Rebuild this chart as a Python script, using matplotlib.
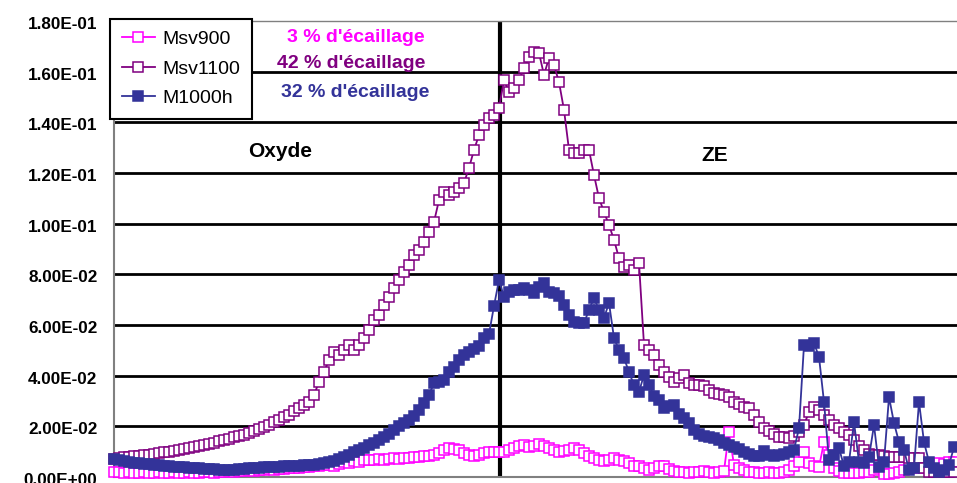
import matplotlib
matplotlib.use("Agg")
import matplotlib.pyplot as plt
import matplotlib.transforms as mtransforms
import numpy as np

# profile values, unit = 1e-3, one point per measurement step
msv900 = [
    2.0, 2.0, 1.6, 2.0, 1.6, 1.6, 2.0, 1.6, 1.6, 2.0,
    1.6, 1.6, 2.0, 1.6, 1.6, 2.0, 1.6, 1.6, 2.0, 2.0,
    1.6, 2.0, 2.0, 2.4, 2.0, 2.4, 2.4, 2.8, 2.4, 2.8,
    2.8, 3.2, 2.8, 3.2, 3.2, 3.6, 3.6, 3.6, 3.9, 3.9,
    4.3, 4.3, 4.7, 4.7, 4.3, 5.1, 5.9, 5.5, 6.3, 5.9,
    6.7, 6.7, 6.7, 7.1, 6.7, 7.1, 7.5, 7.1, 7.5, 7.5,
    7.9, 7.9, 8.3, 8.3, 8.7, 9.5, 10.7, 11.4, 11.1, 10.7,
    9.5, 8.7, 8.3, 8.7, 9.5, 9.9, 9.9, 9.9, 9.9, 10.7,
    11.4, 12.2, 12.6, 11.8, 12.2, 13.0, 12.2, 11.4, 10.7, 9.9,
    10.3, 10.7, 11.4, 10.7, 9.5, 8.3, 7.5, 6.7, 6.3, 6.7,
    7.5, 6.7, 6.3, 5.5, 4.3, 4.3, 3.6, 2.8, 3.6, 4.3,
    4.3, 3.2, 2.4, 2.0, 2.0, 1.6, 2.0, 2.0, 2.4, 2.0,
    1.6, 2.0, 2.4, 17.8, 4.7, 3.6, 2.8, 2.0, 2.0, 1.6,
    1.6, 2.0, 1.6, 1.6, 2.0, 2.8, 4.3, 5.9, 9.9, 5.5,
    4.3, 3.9, 13.8, 8.7, 3.6, 2.4, 1.6, 1.6, 1.6, 1.6,
    2.0, 2.0, 2.8, 3.6, 1.2, 1.2, 1.6, 2.0, 2.8, 3.9,
    3.6, 3.6, 3.9, 3.9, 4.3, 5.5, 5.1, 5.9, 5.9,
]

msv1100 = [
    7.1, 7.5, 7.9, 7.9, 8.3, 8.3, 8.7, 8.7, 9.1, 9.5,
    9.9, 9.9, 10.3, 10.7, 11.1, 11.4, 11.8, 12.2, 12.6, 13.0,
    13.4, 14.2, 14.6, 15.0, 15.8, 16.2, 16.6, 17.4, 18.2, 18.9,
    19.7, 20.5, 21.7, 22.5, 23.7, 24.5, 26.1, 27.2, 28.4, 29.6,
    32.4, 37.5, 41.4, 46.2, 49.3, 48.2, 50.1, 52.1, 50.1, 52.1,
    54.9, 58.0, 62.0, 63.9, 67.9, 71.1, 74.6, 77.8, 80.9, 83.7,
    87.6, 89.6, 92.8, 96.7, 100.7, 109.3, 112.5, 111.3, 112.5, 114.1,
    116.1, 122.0, 129.1, 135.0, 138.9, 141.7, 142.9, 145.7, 156.7, 152.0,
    153.6, 156.7, 161.4, 165.8, 167.8, 167.4, 158.7, 165.4, 162.6, 155.9,
    144.9, 129.1, 127.9, 127.9, 129.1, 129.1, 119.2, 110.1, 104.6, 99.5,
    93.6, 86.4, 82.9, 83.7, 81.7, 84.5, 52.1, 50.1, 48.2, 44.2,
    41.4, 39.5, 37.5, 39.1, 40.3, 37.1, 36.3, 36.3, 35.9, 34.3,
    33.2, 32.8, 32.4, 31.6, 29.6, 28.8, 27.6, 27.2, 24.5, 21.7,
    19.3, 18.2, 17.0, 15.8, 15.8, 15.4, 16.2, 17.8, 20.5, 25.7,
    27.6, 26.4, 24.5, 22.5, 20.5, 19.3, 17.8, 16.6, 14.6, 12.2,
    10.7, 9.1, 8.7, 8.7, 8.3, 7.9, 7.9, 7.9, 7.9, 7.5,
    7.5, 7.5, 3.6, 2.0, 2.0, 2.0, 2.0, 2.0, 2.0,
]

m1000h = [
    7.1, 6.7, 6.3, 5.9, 5.5, 5.5, 5.1, 5.1, 4.7, 4.7,
    4.3, 4.3, 3.9, 3.9, 3.9, 3.6, 3.6, 3.6, 3.2, 3.2,
    3.2, 2.8, 2.8, 2.8, 2.8, 3.2, 3.2, 3.6, 3.6, 3.6,
    3.9, 3.9, 3.9, 3.9, 4.3, 4.3, 4.3, 4.3, 4.7, 4.7,
    4.7, 5.1, 5.5, 5.9, 6.3, 7.1, 7.9, 8.7, 9.9, 10.7,
    11.4, 12.6, 13.4, 14.6, 15.8, 17.0, 18.6, 20.1, 21.3, 22.5,
    24.1, 26.4, 29.2, 32.4, 37.1, 37.5, 38.3, 41.4, 43.4, 46.2,
    48.2, 49.3, 50.5, 51.7, 54.9, 56.4, 67.5, 77.8, 71.1, 73.0,
    73.8, 73.8, 74.6, 73.8, 72.6, 75.0, 76.6, 73.0, 72.6, 71.4,
    67.9, 63.9, 61.2, 60.8, 60.8, 65.9, 70.7, 65.9, 62.8, 68.7,
    54.9, 50.1, 47.0, 41.4, 36.3, 33.6, 40.3, 36.3, 32.0, 30.4,
    27.2, 28.0, 28.4, 24.9, 23.3, 21.3, 18.6, 17.0, 16.2, 15.8,
    15.4, 14.6, 13.4, 12.6, 11.8, 11.1, 9.9, 9.1, 8.3, 8.3,
    10.3, 8.7, 8.3, 8.7, 9.1, 9.9, 10.7, 19.3, 52.1, 51.7,
    52.9, 47.4, 29.6, 6.7, 8.7, 11.4, 4.3, 5.9, 21.7, 5.9,
    5.5, 7.9, 20.5, 3.9, 5.9, 31.6, 21.3, 13.8, 10.7, 2.8,
    3.6, 29.6, 13.8, 5.9, 3.6, 2.0, 2.8, 4.7, 11.8,
]

series_names = ['Msv900', 'Msv1100', 'M1000h']
series_colors = ['#FF00FF', '#800080', '#333399']
scaling_texts = ["3 % d'écaillage", "42 % d'écaillage", "32 % d'écaillage"]
y_ticks = [0.0, 0.02, 0.04, 0.06, 0.08, 0.10, 0.12, 0.14, 0.16, 0.18]
boundary = 77.2  # oxide / ZE interface (point index)

x = np.arange(len(msv900))
fig = plt.figure(figsize=(9.57, 4.83), dpi=100)
plt.rcParams['font.family'] = ['Liberation Sans', 'DejaVu Sans']
ax = fig.add_axes([114 / 957, 6 / 483, 843 / 957, 456 / 483])

# horizontal grid lines (black, thick) between the borders
ax.hlines(y_ticks[1:-1], 0, 1, transform=ax.get_yaxis_transform(),
          colors='black', lw=2, zorder=1)
ax.axvline(boundary, color='black', lw=3, zorder=1)

all_data = [msv900, msv1100, m1000h]
for vals, name, col in zip(all_data, series_names, series_colors):
    y = np.array(vals) / 1000.0
    face = col if name == 'M1000h' else 'white'
    ax.plot(x, y, '-', color=col, lw=1.3, marker='s', markersize=7.8,
            markerfacecolor=face, markeredgecolor=col, markeredgewidth=1.1,
            label=name, zorder=3, clip_on=False)

ax.set_xlim(0, 168.6)
ax.set_ylim(0, 0.18)
ax.set_xticks([])
ax.set_yticks(y_ticks)
ax.set_yticklabels([f"{v:.2E}" for v in y_ticks], fontsize=12.3, fontweight='bold')
ax.tick_params(axis='y', length=0, pad=12)
offset = mtransforms.ScaledTranslation(0, -2 / 100, fig.dpi_scale_trans)
for lab in ax.get_yticklabels():
    lab.set_transform(lab.get_transform() + offset)

for side in ['left', 'bottom', 'top']:
    ax.spines[side].set_color('#808080')
ax.spines['left'].set_linewidth(1.5)
ax.spines['bottom'].set_linewidth(1.5)
ax.spines['top'].set_linewidth(1)
ax.spines['right'].set_visible(False)

# region labels
ax.text(33.2, 0.1283, 'Oxyde', fontsize=15, fontweight='bold', ha='center', va='center')
ax.text(120.2, 0.1271, 'ZE', fontsize=15, fontweight='bold', ha='center', va='center')

# scaling percentages
ax.text(48.4, 0.1733, scaling_texts[0], color=series_colors[0], fontsize=14,
        fontweight='bold', ha='center', va='center')
ax.text(47.4, 0.1634, scaling_texts[1], color=series_colors[1], fontsize=14,
        fontweight='bold', ha='center', va='center')
ax.text(48.2, 0.1516, scaling_texts[2], color=series_colors[2], fontsize=14,
        fontweight='bold', ha='center', va='center')

leg = ax.legend(loc='upper left', bbox_to_anchor=(110 / 957, 1 - 19 / 483),
                bbox_transform=fig.transFigure, borderaxespad=0, fontsize=14,
                fancybox=False, framealpha=1, edgecolor='black',
                handlelength=1.7, handletextpad=0.4, labelspacing=0.6,
                borderpad=0.6)
leg.get_frame().set_linewidth(1.5)
leg.set_zorder(10)

plt.savefig('out.png', dpi=100)
plt.close()
